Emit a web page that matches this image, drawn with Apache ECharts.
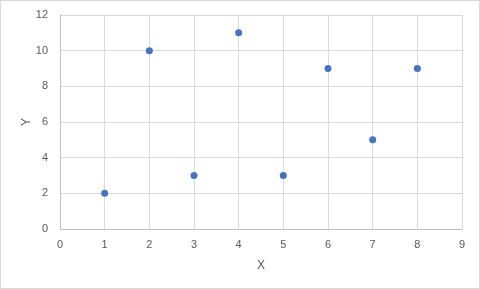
<!DOCTYPE html>
<html><head><meta charset="utf-8">
<script src="https://cdn.jsdelivr.net/npm/echarts@6/dist/echarts.min.js"></script>
<style>html,body{margin:0;padding:0;background:#fff}#c{width:480px;height:289px;box-sizing:border-box;border:1px solid #d9d9d9}</style>
</head><body><div id="c"></div>
<script>
const xValues = [1, 2, 3, 4, 5, 6, 7, 8];
const yValues = [2, 10, 3, 11, 3, 9, 5, 9];
const xTitle = 'X';
const yTitle = 'Y';
const points = xValues.map((x, i) => [x, yValues[i]]);
const chart = echarts.init(document.getElementById('c'));
const lbl = {color: '#595959', fontSize: 11, fontFamily: 'Liberation Sans, Arial, sans-serif'};
chart.setOption({
  animation: false,
  grid: {left: 59, right: 17, top: 14, bottom: 59},
  xAxis: {type: 'value', min: 0, max: 9, interval: 1,
    name: xTitle, nameLocation: 'middle', nameGap: 31, nameMoveOverlap: false,
    nameTextStyle: {color: '#595959', fontSize: 12, fontFamily: 'Liberation Sans, Arial, sans-serif'},
    axisLine: {show: true, onZero: false, lineStyle: {color: '#bfbfbf'}},
    axisTick: {show: false},
    axisLabel: Object.assign({margin: 10}, lbl),
    splitLine: {show: true, lineStyle: {color: '#d9d9d9'}}},
  yAxis: {type: 'value', min: 0, max: 12, interval: 2,
    name: yTitle, nameLocation: 'middle', nameGap: 27, nameRotate: 90, nameMoveOverlap: false,
    nameTextStyle: {color: '#595959', fontSize: 12, fontFamily: 'Liberation Sans, Arial, sans-serif'},
    axisLine: {show: true, lineStyle: {color: '#bfbfbf'}},
    axisTick: {show: false},
    axisLabel: Object.assign({margin: 12}, lbl),
    splitLine: {show: true, lineStyle: {color: '#d9d9d9'}}},
  series: [{type: 'scatter', data: points, symbolSize: 7,
    itemStyle: {color: '#4472c4', opacity: 1}}]
});
</script></body></html>
